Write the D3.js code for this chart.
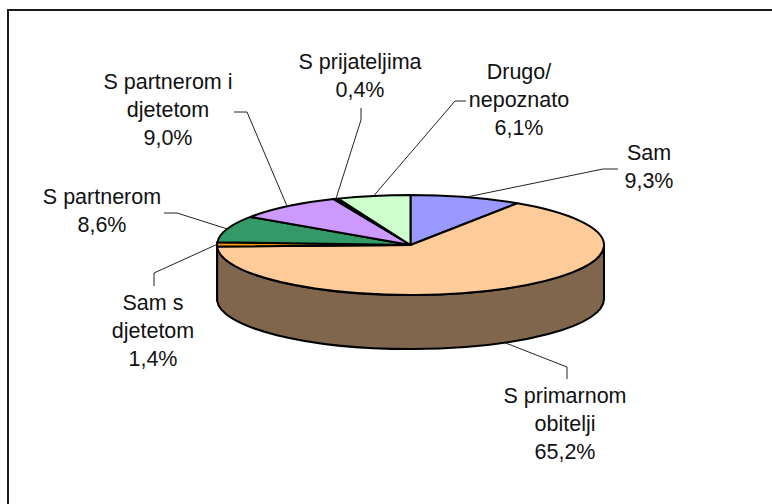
<!DOCTYPE html>
<html>
<head>
<meta charset="utf-8">
<script src="https://d3js.org/d3.v7.min.js"></script>
<style>
html, body { margin: 0; padding: 0; background: #fff; }
svg { display: block; }
text { font-family: "Liberation Sans", Arial, sans-serif; font-size: 21.5px; fill: #111; text-anchor: middle; }
.piece { vector-effect: non-scaling-stroke; stroke: #000; stroke-width: 2; stroke-linejoin: round; }
.leader { fill: none; stroke: #222; stroke-width: 1; }
</style>
</head>
<body>
<svg id="chart" width="772" height="504"></svg>
<script>
var categories = ["Sam", "S primarnom obitelji", "Sam s djetetom", "S partnerom", "S partnerom i djetetom", "S prijateljima", "Drugo/ nepoznato"];
var values = [9.3, 65.2, 1.4, 8.6, 9.0, 0.4, 6.1];
var valueLabels = ["9,3%", "65,2%", "1,4%", "8,6%", "9,0%", "0,4%", "6,1%"];
var topColors = ["#9999ff", "#ffcc99", "#ff9900", "#339966", "#cc99ff", "#000000", "#ccffcc"];
var sideColors = ["#4d4d80", "#7f664d", "#804d00", "#1a4d33", "#664d80", "#000000", "#668066"];

// label placement, one entry per category
var labelLines = [["Sam"], ["S primarnom", "obitelji"], ["Sam s", "djetetom"], ["S partnerom"], ["S partnerom i", "djetetom"], ["S prijateljima"], ["Drugo/", "nepoznato"]];
var labelX = [649, 565, 153, 102, 168, 360, 519];
var labelY = [160, 403, 310, 204, 89, 69, 79];
var lineGap = 28;

// leader elbows: [elbow, end]
var leaderBends = [
    [[603, 169], [618, 169]],
    [[567, 367], [567, 379]],
    [[154, 273], [154, 286]],
    [[177, 213], [164, 213]],
    [[247, 112], [234, 112]],
    [[361, 120], [361, 108]],
    [[455, 101], [466, 101]]
];

var cx = 410.5, cy = 245, rx = 193.5, ry = 50, depth = 54;
var squash = ry / rx;

var svg = d3.select("#chart");

// chart area edge, only top and left are visible
svg.append("path")
    .attr("d", "M8,504V10H772")
    .attr("fill", "none")
    .attr("stroke", "#1a1a1a")
    .attr("stroke-width", 2);

var slices = d3.pie().sort(null).value(function (d) { return d; })(values);

var pie = svg.append("g")
    .attr("transform", `translate(${cx},${cy}) scale(1,${squash})`);

// outer wall, only the front half of the ellipse shows
function wallPath(d) {
    var a0 = Math.max(d.startAngle, Math.PI / 2) - Math.PI / 2;
    var a1 = Math.min(d.endAngle, Math.PI * 1.5) - Math.PI / 2;
    var h = depth / squash;
    var p = d3.path();
    p.moveTo(rx * Math.cos(a0), rx * Math.sin(a0));
    p.arc(0, 0, rx, a0, a1);
    p.lineTo(rx * Math.cos(a1), rx * Math.sin(a1) + h);
    p.arc(0, h, rx, a1, a0, true);
    p.closePath();
    return p.toString();
}

pie.selectAll(".wall")
    .data(slices.filter(function (d) { return d.endAngle > Math.PI / 2 && d.startAngle < Math.PI * 1.5; }))
    .enter().append("path")
    .attr("class", "wall piece")
    .attr("d", wallPath)
    .attr("fill", function (d) { return sideColors[d.index]; });

var arc = d3.arc().innerRadius(0).outerRadius(rx);

pie.selectAll(".top")
    .data(slices)
    .enter().append("path")
    .attr("class", "top piece")
    .attr("d", arc)
    .attr("fill", function (d) { return topColors[d.index]; });

// leaders start on the rim at the middle of the slice
function rimPoint(d) {
    var mid = (d.startAngle + d.endAngle) / 2;
    var x = cx + rx * Math.sin(mid);
    var y = cy - ry * Math.cos(mid);
    if (mid > Math.PI / 2 && mid < Math.PI * 1.5) y += depth;
    return [x, y];
}

svg.selectAll(".leader")
    .data(slices)
    .enter().append("path")
    .attr("class", "leader")
    .attr("d", function (d) {
        return d3.line()([rimPoint(d)].concat(leaderBends[d.index]));
    });

var labels = svg.selectAll(".label")
    .data(categories)
    .enter().append("text")
    .attr("class", "label")
    .attr("y", function (d, i) { return labelY[i]; });

labels.each(function (d, i) {
    var lines = labelLines[i].concat(valueLabels[i]);
    d3.select(this).selectAll("tspan")
        .data(lines)
        .enter().append("tspan")
        .attr("x", labelX[i])
        .attr("y", function (l, j) { return labelY[i] + j * lineGap; })
        .text(function (l) { return l; });
});
</script>
</body>
</html>
